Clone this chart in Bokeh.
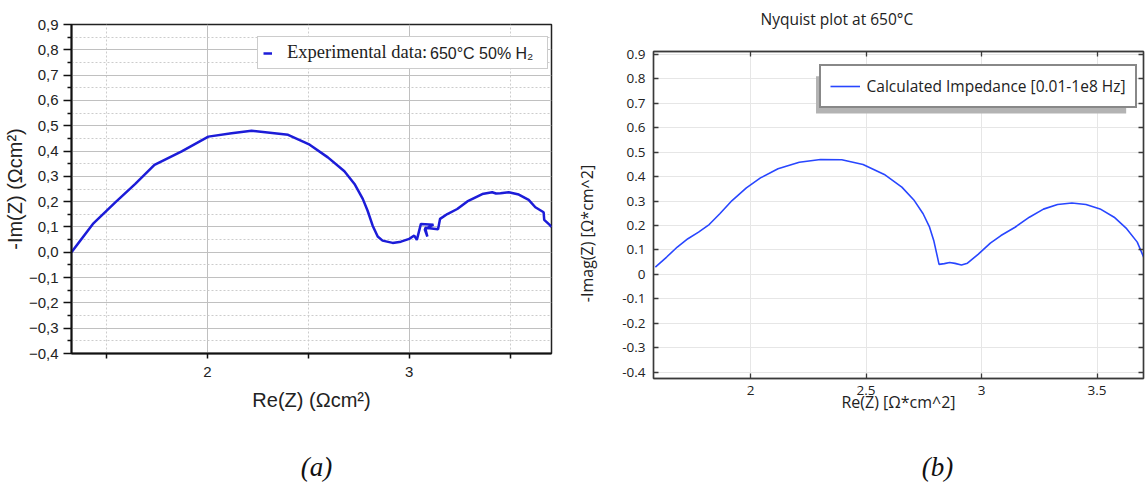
import math
from bokeh.plotting import figure
from bokeh.layouts import row, column
from bokeh.models import (Range1d, FixedTicker, LinearAxis, Legend, LegendItem,
                          Label, CustomJSTickFormatter, BoxAnnotation)
from bokeh.core.properties import value
from bokeh.embed import file_html
from bokeh.resources import INLINE

# ---------------- data ----------------
# (a) experimental data, 650 °C 50% H2
left_re = [1.327, 1.433, 1.544, 1.643, 1.738, 1.873, 2.005, 2.120, 2.219, 2.400,
           2.507, 2.597, 2.679, 2.729, 2.770, 2.794, 2.819, 2.844, 2.868, 2.918,
           2.959, 3.000, 3.025, 3.038, 3.058, 3.120, 3.077, 3.090, 3.079, 3.143,
           3.153, 3.189, 3.238, 3.288, 3.362, 3.411, 3.430, 3.452, 3.493, 3.543,
           3.592, 3.625, 3.666, 3.669, 3.696, 3.705]
left_im = [0.000, 0.112, 0.197, 0.270, 0.345, 0.399, 0.457, 0.470, 0.480, 0.464,
           0.425, 0.375, 0.320, 0.270, 0.211, 0.164, 0.105, 0.062, 0.046, 0.037,
           0.042, 0.053, 0.066, 0.049, 0.112, 0.109, 0.091, 0.062, 0.097, 0.091,
           0.132, 0.151, 0.171, 0.201, 0.230, 0.237, 0.232, 0.233, 0.237, 0.228,
           0.207, 0.178, 0.158, 0.128, 0.108, 0.100]

# (b) calculated impedance
right_re = [1.588, 1.637, 1.683, 1.729, 1.775, 1.821, 1.867, 1.920, 1.982, 2.043,
            2.119, 2.211, 2.303, 2.395, 2.487, 2.579, 2.655, 2.709, 2.747, 2.775,
            2.793, 2.806, 2.816, 2.839, 2.862, 2.885, 2.913, 2.939, 2.985, 3.038,
            3.084, 3.145, 3.207, 3.268, 3.329, 3.391, 3.452, 3.513, 3.574, 3.628,
            3.674, 3.709]
right_im = [0.030, 0.071, 0.112, 0.146, 0.173, 0.204, 0.248, 0.302, 0.354, 0.395,
            0.432, 0.459, 0.470, 0.469, 0.450, 0.409, 0.357, 0.302, 0.248, 0.193,
            0.139, 0.084, 0.041, 0.044, 0.049, 0.045, 0.038, 0.046, 0.082, 0.128,
            0.159, 0.193, 0.234, 0.267, 0.286, 0.292, 0.286, 0.268, 0.234, 0.187,
            0.132, 0.054]

left_xticks = [2, 3]
left_xminor = [1.5, 2.5, 3.5]
left_yticks = [-0.4, -0.3, -0.2, -0.1, 0, 0.1, 0.2, 0.3, 0.4, 0.5, 0.6, 0.7, 0.8, 0.9]
left_yminor = [-0.35, -0.25, -0.15, -0.05, 0.05, 0.15, 0.25, 0.35, 0.45, 0.55,
               0.65, 0.75, 0.85]
right_xticks = [2, 2.5, 3, 3.5]
right_yticks = [-0.4, -0.3, -0.2, -0.1, 0, 0.1, 0.2, 0.3, 0.4, 0.5, 0.6, 0.7, 0.8, 0.9]

captions = ["(a)", "(b)"]
left_legend_a = "Experimental data:"
left_legend_b = "650°C 50% H₂"
right_legend = "Calculated Impedance [0.01-1e8 Hz]"
right_title = "Nyquist plot at 650°C"
right_ylabel = "-Imag(Z) [Ω*cm^2]"

SANS_A = "Liberation Sans"
SERIF = "Liberation Serif"
SANS_B = "Open Sans"


def blank(w, h, xr=None, bl=0, br=0):
    f = figure(width=w, height=h, x_range=Range1d(0, xr if xr else w),
               y_range=Range1d(0, h),
               output_backend="svg", toolbar_location=None, min_border=0,
               min_border_left=bl, min_border_right=br,
               title=None, x_axis_type=None, y_axis_type=None)
    f.grid.visible = False
    f.outline_line_color = None
    f.background_fill_color = "white"
    f.border_fill_color = "white"
    return f


# ---------------- panel (a) ----------------
p1 = figure(width=553, height=420, x_range=Range1d(1.327, 3.705),
            y_range=Range1d(-0.4, 0.9), output_backend="svg", toolbar_location=None,
            title=None,
            min_border_left=70, min_border_right=2, min_border_top=24,
            min_border_bottom=67)
p1.background_fill_color = "white"
p1.border_fill_color = "white"
p1.outline_line_color = "#222222"
p1.outline_line_width = 1.5

xt1 = FixedTicker(ticks=left_xticks, minor_ticks=left_xminor)
yt1 = FixedTicker(ticks=left_yticks, minor_ticks=left_yminor)
p1.xaxis.ticker = xt1
p1.yaxis.ticker = yt1
p1.xgrid.ticker = xt1
p1.ygrid.ticker = yt1
p1.grid.grid_line_color = "#c0c0c0"
p1.grid.grid_line_width = 1
p1.grid.minor_grid_line_color = "#cccccc"
p1.grid.minor_grid_line_dash = "2 2"

ax = p1.xaxis[0]
ax.formatter = CustomJSTickFormatter(code="return tick.toFixed(0);")
ax.major_tick_out = 5
ax.major_tick_in = 0
ax.minor_tick_out = 5
ax.minor_tick_in = 0
ax.axis_line_width = 2
ax.axis_line_color = "#111111"
ax.major_tick_line_width = 1.5
ax.minor_tick_line_width = 1.5
ax.major_tick_line_color = "#111111"
ax.minor_tick_line_color = "#111111"
ax.major_label_text_font = SANS_A
ax.major_label_text_font_size = "15px"
ax.major_label_text_color = "#222222"
ax.major_label_standoff = 8
ax.axis_label = "Re(Z) (Ωcm²)"
ax.axis_label_text_font = SANS_A
ax.axis_label_text_font_size = "20px"
ax.axis_label_text_font_style = "normal"
ax.axis_label_text_color = "#222222"
ax.axis_label_standoff = 9

ay = p1.yaxis[0]
ay.formatter = CustomJSTickFormatter(
    code="return tick.toFixed(1).replace('.', ',').replace('-', '\u2212');")
ay.major_tick_out = 8
ay.major_tick_in = 0
ay.minor_tick_out = 4
ay.minor_tick_in = 0
ay.axis_line_width = 2
ay.axis_line_color = "#111111"
ay.major_tick_line_width = 1.5
ay.minor_tick_line_width = 1.5
ay.major_tick_line_color = "#111111"
ay.minor_tick_line_color = "#111111"
ay.major_label_text_font = SANS_A
ay.major_label_text_font_size = "15px"
ay.major_label_text_color = "#222222"
ay.major_label_standoff = 5
ay.axis_label = "-Im(Z) (Ωcm²)"
ay.axis_label_text_font = SANS_A
ay.axis_label_text_font_size = "20px"
ay.axis_label_text_font_style = "normal"
ay.axis_label_text_color = "#222222"
ay.axis_label_standoff = 0

r1 = p1.line(left_re, left_im, line_color="#1c1cd8", line_width=2.5)
ghost1 = p1.line(x=[], y=[], line_alpha=0)

leg1 = Legend(items=[LegendItem(label=value(left_legend_a), renderers=[r1])],
              location=(186, 284), margin=0, padding=5, spacing=0,
              glyph_width=9, glyph_height=20, label_standoff=15,
              label_width=255, label_height=20,
              label_text_font=SERIF, label_text_font_size="18.5px",
              label_text_color="#222222",
              border_line_color="#9a9a9a", border_line_width=1,
              background_fill_color="white", background_fill_alpha=1.0)
p1.add_layout(leg1)
leg1b = Legend(items=[LegendItem(label=value(left_legend_b), renderers=[ghost1])],
               location=(358, 289.5), margin=0, padding=0, spacing=0,
               glyph_width=1, glyph_height=20, label_standoff=0,
               label_height=20,
               label_text_font=SANS_A, label_text_font_size="16px",
               label_text_color="#222222",
               border_line_color=None, background_fill_alpha=0.0)
p1.add_layout(leg1b)

# ---------------- panel (b) ----------------
p2 = figure(width=547, height=390, x_range=Range1d(1.58, 3.701),
            y_range=Range1d(-0.426, 0.912), output_backend="svg",
            toolbar_location=None, title=None,
            min_border_left=55, min_border_right=2, min_border_top=21,
            min_border_bottom=42)
p2.background_fill_color = "white"
p2.border_fill_color = "white"
p2.outline_line_color = "#555555"
p2.outline_line_width = 1.5

xt2 = FixedTicker(ticks=right_xticks)
yt2 = FixedTicker(ticks=right_yticks)
p2.xaxis.ticker = xt2
p2.yaxis.ticker = yt2
p2.xgrid.ticker = xt2
p2.ygrid.ticker = yt2
p2.grid.grid_line_color = "#e6e6e6"
p2.grid.grid_line_width = 1

fmt2 = "return String(Number(tick.toFixed(2)));"
for a in (p2.xaxis[0], p2.yaxis[0]):
    a.formatter = CustomJSTickFormatter(code=fmt2)
    a.major_tick_in = 5
    a.major_tick_out = 0
    a.minor_tick_line_color = None
    a.axis_line_color = "#3a3a3a"
    a.axis_line_width = 1.3
    a.major_tick_line_color = "#3a3a3a"
    a.major_tick_line_width = 1.3
    a.major_label_text_font = SANS_B
    a.major_label_text_font_size = "13.5px"
    a.major_label_text_color = "#222222"
    a.axis_label_text_font = SANS_B
    a.axis_label_text_font_size = "16px"
    a.axis_label_text_font_style = "normal"
    a.axis_label_text_color = "#222222"

p2.xaxis[0].axis_label = "Re(Z) [Ω*cm^2]"
p2.xaxis[0].major_label_standoff = 7
p2.xaxis[0].axis_label_standoff = -7
p2.yaxis[0].major_label_standoff = 8

for loc, tk in (("above", xt2), ("right", yt2)):
    extra = LinearAxis(ticker=tk, major_tick_in=5, major_tick_out=0,
                       minor_tick_line_color=None, major_label_text_font_size="1px",
                       major_label_text_color=None,
                       major_label_standoff=0, axis_line_color="#3a3a3a",
                       axis_line_width=1.3, major_tick_line_color="#3a3a3a",
                       major_tick_line_width=1.3)
    p2.add_layout(extra, loc)

r2 = p2.line(right_re, right_im, line_color="#2846ff", line_width=1.6)

p2.add_layout(BoxAnnotation(left=2.2835, right=3.626, top=0.811, bottom=0.658,
                            fill_color="#b3b3b3", fill_alpha=1.0, line_color=None))
leg2 = Legend(items=[LegendItem(label=value(right_legend), renderers=[r2])],
              location=(165.5, 269.6), margin=0, padding=9, spacing=0,
              glyph_width=30, glyph_height=20, label_standoff=7,
              label_width=255, label_height=20,
              label_text_font=SANS_B, label_text_font_size="15.5px",
              label_text_color="#222222",
              border_line_color="#111111", border_line_width=2,
              background_fill_color="white", background_fill_alpha=1.0)
p2.add_layout(leg2)

# title strip above panel (b) (its frame lines up with the frame of panel (b))
head2 = blank(547, 30, xr=490, bl=55, br=2)
head2.add_layout(Label(x=107, y=12, text=right_title, text_font=SANS_B,
                       text_font_size="15.5px", text_color="#222222",
                       text_align="left", text_baseline="middle"))

# rotated y label strip left of panel (b)
ylab = blank(45, 420)
ylab.add_layout(Label(x=33, y=187, text=right_ylabel, text_font=SANS_B,
                      text_font_size="16px", text_color="#222222",
                      angle=math.pi / 2, text_align="center",
                      text_baseline="middle"))

# captions strip
caps = blank(1145, 62)
for cx, txt in zip((316, 937), captions):
    caps.add_layout(Label(x=cx, y=16, text=txt, text_font=SERIF,
                          text_font_size="27px", text_font_style="italic",
                          text_color="#111111", text_align="center",
                          text_baseline="middle"))

layout = column(row(column(p1), column(ylab), column(head2, p2)), caps)
open("out.html", "w").write(file_html(layout, INLINE))
